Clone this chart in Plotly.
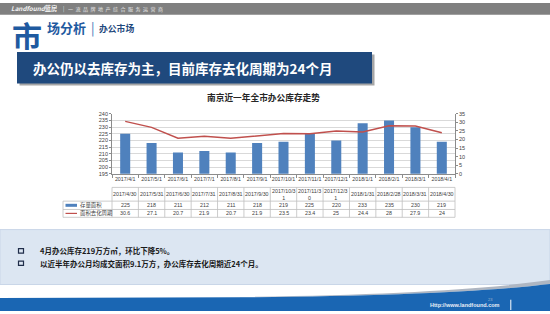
import plotly.graph_objects as go

# ---------------- data ----------------
categories = ["2017/4/1", "2017/5/1", "2017/6/1", "2017/7/1", "2017/8/1", "2017/9/1",
              "2017/10/1", "2017/11/1", "2017/12/1", "2018/1/1", "2018/2/1", "2018/3/1", "2018/4/1"]
table_dates = ["2017/4/30", "2017/5/31", "2017/6/30", "2017/7/31", "2017/8/31", "2017/9/30",
               "2017/10/31", "2017/11/30", "2017/12/31", "2018/1/31", "2018/2/28", "2018/3/31", "2018/4/30"]
stock_area = [225, 218, 211, 212, 211, 218, 219, 225, 220, 233, 235, 230, 219]
cycle_months = [30.6, 27.1, 20.7, 21.9, 20.7, 21.9, 23.5, 23.4, 25, 24.4, 28, 27.9, 24]
series_names = ["存量面积", "面积去化周期"]
left_ticks = list(range(195, 241, 5))
right_ticks = list(range(0, 36, 5))

slide_title = "办公仍以去库存为主，目前库存去化周期为24个月"
chart_title = "南京近一年全市办公库存走势"
bullets = ["4月办公库存219万方㎡，环比下降5%。",
           "以近半年办公月均成交面积9.1万方，办公库存去化周期近24个月。"]

# ---------------- helpers ----------------
W, H = 550, 314
def X(v): return v / W
def Y(v): return 1 - v / H

CJK = "Noto Sans CJK SC"
LAT = "Liberation Sans"
BAR_C = "#4f81bd"
LINE_C = "#c0504d"
GRID_C = "#d9d9d9"
AX_C = "#8c8c8c"
TXT_C = "#404040"

PX0, PX1 = 112, 455   # plot area x (px)
PY0, PY1 = 113, 174   # plot area y (px)
n = len(categories)
colw = (PX1 - PX0) / n

fig = go.Figure()
fig.add_trace(go.Bar(x=categories, y=stock_area, name=series_names[0],
                     marker=dict(color=BAR_C, line=dict(width=0)), yaxis="y"))
fig.add_trace(go.Scatter(x=categories, y=cycle_months, name=series_names[1], mode="lines",
                         line=dict(color=LINE_C, width=1.5), yaxis="y2"))

shapes = []
annotations = []

def rect(x0, y0, x1, y1, fill, line=None, lw=0):
    shapes.append(dict(type="rect", xref="paper", yref="paper", x0=X(x0), x1=X(x1),
                       y0=Y(y1), y1=Y(y0), fillcolor=fill,
                       line=dict(color=line or fill, width=lw), layer="below"))

def hline(x0, x1, y, color, w=0.8):
    shapes.append(dict(type="line", xref="paper", yref="paper", x0=X(x0), x1=X(x1),
                       y0=Y(y), y1=Y(y), line=dict(color=color, width=w)))

def vline(x, y0, y1, color, w=0.8):
    shapes.append(dict(type="line", xref="paper", yref="paper", x0=X(x), x1=X(x),
                       y0=Y(y0), y1=Y(y1), line=dict(color=color, width=w)))

def ann(text, x, y, size, color="#000", family=CJK, xanchor="center", bold=False, height=None):
    if bold:
        text = "<b>" + text + "</b>"
    a = dict(text=text, x=X(x), y=Y(y), xref="paper", yref="paper",
             xanchor=xanchor, yanchor="middle", showarrow=False,
             font=dict(size=size, color=color, family=family))
    if height is not None:
        a["height"] = height
    annotations.append(a)

# ---------------- header ----------------
rect(0, 0, 550, 12, "#808080")
ann("<i>Landfound</i>蓝房", 9, 5.8, 6.3, "#f2f2f2", family=CJK, xanchor="left", bold=True, height=9)
ann("|", 61, 5.8, 5.5, "#e0e0e0", xanchor="left", height=8)
ann("\u2002".join("一流品牌地产综合服务运营商"), 66, 5.8, 5, "#e6e6e6", xanchor="left", height=8)

ann("市", 27, 33, 30, "#1f5aa0", bold=True, height=30)
ann("场分析", 44.5, 25, 13, "#1f5aa0", xanchor="left", bold=True)
ann("|", 88.5, 25, 13, "#2e75b6", xanchor="left")
ann("办公市场", 97, 25.5, 8.8, "#1f497d", xanchor="left", bold=True)

rect(19.5, 52.5, 374.5, 84, "#a6a6a6")
rect(17, 50, 372, 82, "#1f497d")
ann(slide_title, 31, 66, 13.5, "#ffffff", xanchor="left", bold=True)

# ---------------- chart title ----------------
ann(chart_title, 263, 96, 8.7, "#262626", bold=True)

# ---------------- data table ----------------
T_TOP, T_H1, T_R1, T_BOT = 188, 202, 210.5, 218.5
LEG_X = 63
TBL_C = "#bfbfbf"
hline(PX0, PX1, T_TOP, TBL_C)
for yy in (T_H1, T_R1, T_BOT):
    hline(LEG_X, PX1, yy, TBL_C)
vline(LEG_X, T_H1, T_BOT, TBL_C)
for i in range(n + 1):
    vline(PX0 + i * colw, T_TOP, T_BOT, TBL_C)

for i in range(n):
    cx = PX0 + (i + 0.5) * colw
    lab = table_dates[i]
    if len(lab) > 9:
        lab = lab[:9] + "<br>" + lab[9:]
    ann(lab, cx, (T_TOP + T_H1) / 2, 5.3, TXT_C, family=LAT)
    ann(str(stock_area[i]), cx, (T_H1 + T_R1) / 2, 5.3, TXT_C, family=LAT)
    ann(str(cycle_months[i]), cx, (T_R1 + T_BOT) / 2, 5.3, TXT_C, family=LAT)

# legend keys inside the table
hline(65.5, 77, (T_H1 + T_R1) / 2, BAR_C, 3)
hline(65.5, 77, (T_R1 + T_BOT) / 2, LINE_C, 1.2)
ann(series_names[0], 78, (T_H1 + T_R1) / 2, 5.4, TXT_C, xanchor="left")
ann(series_names[1], 78, (T_R1 + T_BOT) / 2, 5.4, TXT_C, xanchor="left")

# ---------------- bottom panel ----------------
rect(0, 231, 550, 287, "#dce6f2", "#c9d6e8", 1)
for k, (txt, yy) in enumerate(zip(bullets, (252.7, 265.3))):
    shapes.append(dict(type="rect", xref="paper", yref="paper", x0=X(18.5), x1=X(23.5),
                       y0=Y(yy + 2.2), y1=Y(yy - 2.2), fillcolor="rgba(0,0,0,0)",
                       line=dict(color="#1f2d4a", width=1.2)))
    ann(txt, 37.5, yy, 7.5, "#1a1a1a", xanchor="left", bold=True)

# ---------------- footer swoosh ----------------
def pth(cmds):
    out = []
    for c in cmds:
        if isinstance(c, str):
            out.append(c)
        else:
            out.append("%.5f,%.5f" % (X(c[0]), Y(c[1])))
    return " ".join(out)

gray_path = pth(["M", (240, 299.6), "Q", (450, 297), (550, 282.5), "L", (550, 286.5),
                 "Q", (450, 298.5), (240, 300), "Z"])
blue_path = pth(["M", (0, 300.8), "L", (240, 300), "Q", (450, 298.5), (550, 286.5),
                 "L", (550, 314), "L", (0, 314), "Z"])
shapes.append(dict(type="path", xref="paper", yref="paper", path=gray_path,
                   fillcolor="#aeb6c2", line=dict(width=0)))
shapes.append(dict(type="path", xref="paper", yref="paper", path=blue_path,
                   fillcolor="#1a66b3", line=dict(width=0)))
vline(510.8, 302.5, 313, "#ffffff", 1)
ann("Http://www.landfound.com", 427.5, 307.5, 5.5, "#e8eef6", family=LAT, xanchor="left", bold=True)
ann("23", 490, 302.3, 4, "#9fb3cc", family=LAT)

# ---------------- layout ----------------
fig.update_layout(
    width=W, height=H, autosize=False,
    margin=dict(l=0, r=0, t=0, b=0),
    paper_bgcolor="#ffffff", plot_bgcolor="#ffffff",
    showlegend=False, bargap=0.62,
    shapes=shapes, annotations=annotations,
    xaxis=dict(domain=[X(PX0), X(PX1)], type="category", range=[-0.5, n - 0.5],
               showline=True, linecolor=AX_C, linewidth=0.8, ticks="outside", tickson="boundaries",
               ticklen=3, tickcolor=AX_C, showgrid=False, fixedrange=True, tickangle=0,
               tickfont=dict(size=5.3, color=TXT_C, family=LAT)),
    yaxis=dict(domain=[Y(PY1), Y(PY0)], range=[195, 240], tickvals=left_ticks,
               showgrid=True, gridcolor=GRID_C, gridwidth=0.8, zeroline=False,
               showline=True, linecolor=AX_C, linewidth=0.8, ticks="outside", ticklen=2,
               tickcolor=AX_C, tickfont=dict(size=5.5, color=TXT_C, family=LAT)),
    yaxis2=dict(overlaying="y", side="right", anchor="x", range=[0, 35], tickvals=right_ticks,
                showgrid=False, zeroline=False, showline=True, linecolor=AX_C, linewidth=0.8,
                ticks="outside", ticklen=2, tickcolor=AX_C,
                tickfont=dict(size=5.5, color=TXT_C, family=LAT)),
)

fig.write_html("out.html")
